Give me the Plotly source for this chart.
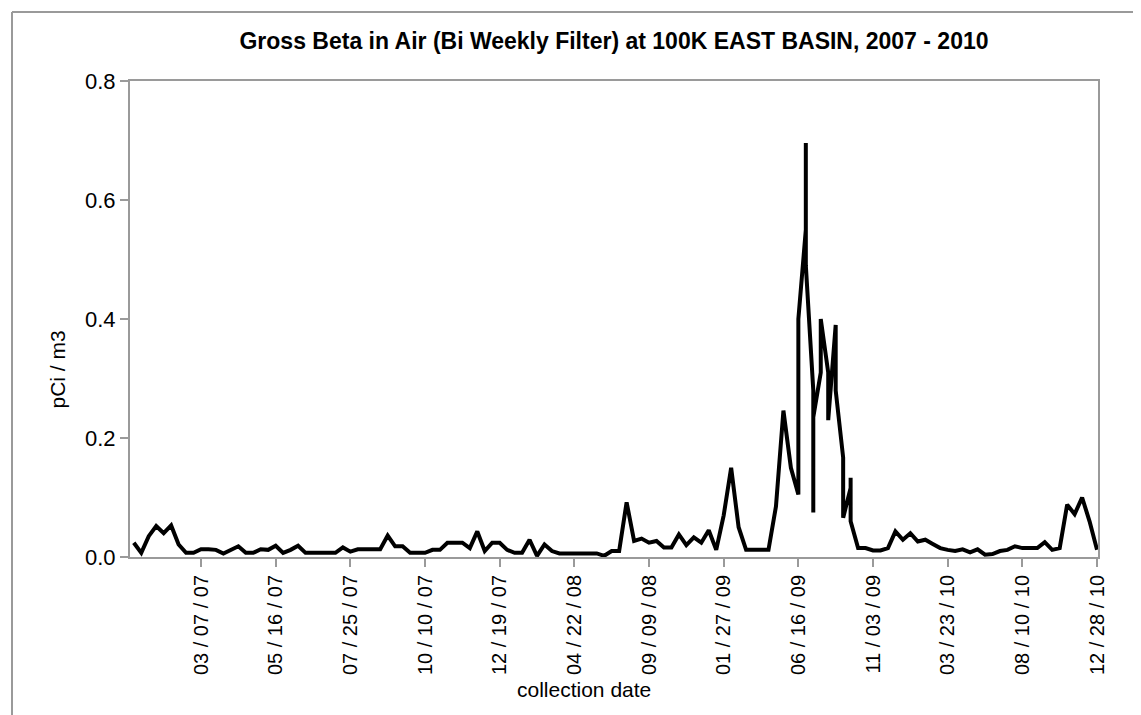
import plotly.graph_objects as go

# collection dates (weekly in 2007, bi-weekly afterwards)
collection_dates = [
    "01/03/07", "01/10/07", "01/17/07", "01/24/07", "01/31/07", "02/07/07", "02/14/07", "02/21/07", "02/28/07",
    "03/07/07", "03/14/07", "03/21/07", "03/28/07", "04/04/07", "04/11/07", "04/18/07", "04/25/07", "05/02/07", "05/09/07",
    "05/16/07", "05/23/07", "05/30/07", "06/06/07", "06/13/07", "06/20/07", "06/27/07", "07/04/07", "07/11/07", "07/18/07",
    "07/25/07", "08/01/07", "08/08/07", "08/15/07", "08/22/07", "08/29/07", "09/05/07", "09/12/07", "09/19/07", "09/26/07",
    "10/10/07", "10/17/07", "10/24/07", "10/31/07", "11/07/07", "11/14/07", "11/21/07", "11/28/07", "12/05/07", "12/12/07",
    "12/19/07", "12/27/07", "01/09/08", "01/23/08", "02/06/08", "02/20/08", "03/05/08", "03/19/08", "04/02/08", "04/09/08",
    "04/22/08", "05/06/08", "05/20/08", "06/03/08", "06/17/08", "07/01/08", "07/15/08", "07/29/08", "08/12/08", "08/26/08",
    "09/09/08", "09/23/08", "10/07/08", "10/21/08", "11/04/08", "11/18/08", "12/02/08", "12/16/08", "12/30/08", "01/13/09",
    "01/27/09", "02/10/09", "02/24/09", "03/10/09", "03/24/09", "04/07/09", "04/21/09", "05/05/09", "05/19/09", "06/02/09",
    "06/16/09", "06/30/09", "07/14/09", "07/28/09", "08/11/09", "08/25/09", "09/08/09", "09/22/09", "10/06/09", "10/20/09",
    "11/03/09", "11/17/09", "12/01/09", "12/15/09", "12/29/09", "01/12/10", "01/26/10", "02/09/10", "02/23/10", "03/09/10",
    "03/23/10", "04/06/10", "04/20/10", "05/04/10", "05/18/10", "06/01/10", "06/15/10", "06/29/10", "07/13/10", "07/27/10",
    "08/10/10", "08/24/10", "09/07/10", "09/21/10", "10/05/10", "10/19/10", "11/02/10", "11/16/10", "11/30/10", "12/14/10",
    "12/28/10",
]

# pCi/m3 per date; tuples = several results on the same date
gross_beta = [
    0.024, 0.007, 0.035, 0.052, 0.040, 0.053, 0.021, 0.007, 0.007,
    0.013, 0.013, 0.012, 0.006, 0.012, 0.018, 0.007, 0.007, 0.013, 0.012,
    0.019, 0.007, 0.012, 0.019, 0.007, 0.007, 0.007, 0.007, 0.007, 0.016,
    0.009, 0.013, 0.013, 0.013, 0.013, 0.036, 0.018, 0.018, 0.007, 0.007,
    0.007, 0.012, 0.012, 0.024, 0.024, 0.024, 0.015, 0.043, 0.010, 0.024,
    0.024, 0.012, 0.007, 0.007, 0.029, 0.002, 0.021, 0.010, 0.006, 0.006,
    0.006, 0.006, 0.006, 0.006, 0.002, 0.010, 0.010, 0.092, 0.027, 0.031,
    0.024, 0.027, 0.016, 0.016, 0.038, 0.020, 0.033, 0.024, 0.045, 0.012,
    0.070, 0.150, 0.050, 0.012, 0.012, 0.012, 0.012, 0.085, 0.246, 0.150,
    (0.105, 0.25, 0.40), (0.55, 0.696, 0.49), (0.28, 0.075, 0.235), (0.31, 0.40),
    (0.31, 0.23), (0.39, 0.28), (0.167, 0.066), (0.116, 0.133, 0.06), 0.015, 0.015,
    0.011, 0.011, 0.015, 0.043, 0.029, 0.040, 0.026, 0.029, 0.022, 0.015,
    0.012, 0.010, 0.013, 0.008, 0.013, 0.004, 0.005, 0.010, 0.012, 0.018,
    0.015, 0.015, 0.015, 0.025, 0.012, 0.015, 0.088, 0.072, 0.100, 0.060,
    0.012,
]

labels = [d.replace("/", " / ") for d in collection_dates]
x_vals, y_vals = [], []
for lab, v in zip(labels, gross_beta):
    for val in (v if isinstance(v, tuple) else (v,)):
        x_vals.append(lab)
        y_vals.append(val)

tick_labels = labels[9::10]

# plot area in pixels
W, H = 1141, 715
L, R, T, B = 122, 51, 73, 166
pw, ph = W - L - R, H - T - B


def px_x(x):
    return (x - L) / pw


def px_y(y):
    return (H - B - y) / ph


FONT = "Liberation Sans, Arial, sans-serif"
GREY = "#9a9a9a"

fig = go.Figure()
fig.add_trace(go.Scatter(x=x_vals, y=y_vals, mode="lines",
                         line=dict(color="black", width=4), showlegend=False))

fig.update_layout(
    width=W, height=H,
    margin=dict(l=L, r=R, t=T, b=B),
    paper_bgcolor="white", plot_bgcolor="white",
    font=dict(family=FONT, size=21, color="black"),
    title=dict(text="<b>Gross Beta in Air (Bi Weekly Filter) at 100K EAST BASIN, 2007 - 2010</b>",
               x=px_x(606), xref="paper", xanchor="center",
               y=1 - 33 / H, yanchor="middle", font=dict(size=23)),
    xaxis=dict(type="category", categoryorder="array", categoryarray=labels,
               tickvals=tick_labels, tickangle=-90, range=[-0.51, 129.13],
               showline=True, linecolor=GREY, linewidth=2, mirror=True,
               ticks="outside", ticklen=8, tickcolor=GREY, tickwidth=2,
               showgrid=False, zeroline=False, tickfont=dict(size=20)),
    yaxis=dict(range=[0, 0.8], tickvals=[0, 0.2, 0.4, 0.6, 0.8], tickformat=".1f",
               showline=True, linecolor=GREY, linewidth=2, mirror=True,
               ticks="outside", ticklen=8, tickcolor=GREY, tickwidth=2,
               showgrid=False, zeroline=False, tickfont=dict(size=22)),
    annotations=[
        dict(text="pCi / m3", textangle=-90, xref="paper", yref="paper",
             x=px_x(35), y=px_y(362), showarrow=False, font=dict(size=21)),
        dict(text="collection date", xref="paper", yref="paper",
             x=px_x(576), y=px_y(695), showarrow=False, font=dict(size=21)),
    ],
    shapes=[
        dict(type="line", xref="paper", yref="paper", x0=px_x(4), x1=px_x(W + 5),
             y0=px_y(4), y1=px_y(4), line=dict(color=GREY, width=2)),
        dict(type="line", xref="paper", yref="paper", x0=px_x(4), x1=px_x(4),
             y0=px_y(4), y1=px_y(H + 5), line=dict(color=GREY, width=2)),
    ],
)

fig.write_html("out.html")
